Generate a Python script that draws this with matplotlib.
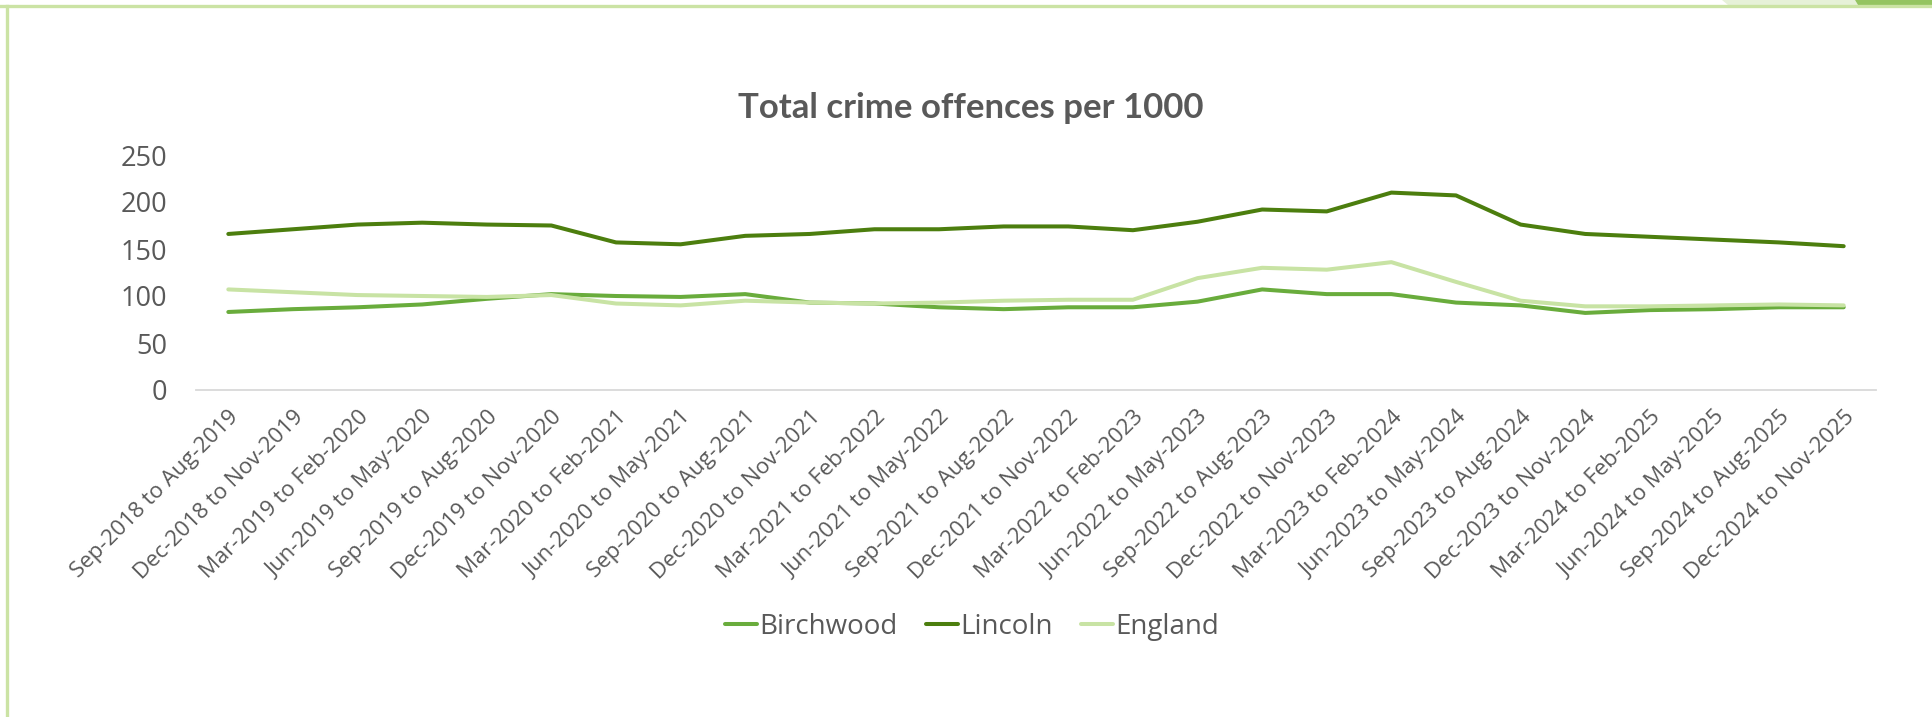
import matplotlib
matplotlib.use("Agg")
import matplotlib.pyplot as plt
from matplotlib.patches import Polygon
from matplotlib.lines import Line2D

periods = [
    "Sep-2018 to Aug-2019", "Dec-2018 to Nov-2019", "Mar-2019 to Feb-2020",
    "Jun-2019 to May-2020", "Sep-2019 to Aug-2020", "Dec-2019 to Nov-2020",
    "Mar-2020 to Feb-2021", "Jun-2020 to May-2021", "Sep-2020 to Aug-2021",
    "Dec-2020 to Nov-2021", "Mar-2021 to Feb-2022", "Jun-2021 to May-2022",
    "Sep-2021 to Aug-2022", "Dec-2021 to Nov-2022", "Mar-2022 to Feb-2023",
    "Jun-2022 to May-2023", "Sep-2022 to Aug-2023", "Dec-2022 to Nov-2023",
    "Mar-2023 to Feb-2024", "Jun-2023 to May-2024", "Sep-2023 to Aug-2024",
    "Dec-2023 to Nov-2024", "Mar-2024 to Feb-2025", "Jun-2024 to May-2025",
    "Sep-2024 to Aug-2025", "Dec-2024 to Nov-2025",
]

birchwood = [83, 86, 88, 91, 97, 102, 100, 99, 102, 93, 92, 88, 86, 88, 88,
             94, 107, 102, 102, 93, 90, 82, 85, 86, 88, 88]
lincoln = [166, 171, 176, 178, 176, 175, 157, 155, 164, 166, 171, 171, 174, 174,
           170, 179, 192, 190, 210, 207, 176, 166, 163, 160, 157, 153]
england = [107, 104, 101, 100, 99, 101, 92, 90, 95, 93, 92, 93, 95, 96, 96,
           119, 130, 128, 136, 115, 95, 89, 89, 90, 91, 90]

series = [
    ("Birchwood", birchwood, "#69AC3C"),
    ("Lincoln", lincoln, "#4C7E0E"),
    ("England", england, "#C8E3A4"),
]

text_grey = "#595959"
body_font = ["Open Sans", "DejaVu Sans"]
title_font = ["Lato", "DejaVu Sans"]

W, H = 1932, 717
fig = plt.figure(figsize=(W / 100, H / 100), dpi=100)
fig.patch.set_facecolor("white")

# slide frame: green rule along the top and left edge, accent at top right
fig.add_artist(Line2D([0, 1], [1 - 6 / H, 1 - 6 / H], transform=fig.transFigure,
                      color="#CBE3A4", lw=2.4))
fig.add_artist(Line2D([7 / W, 7 / W], [0, 1 - 6 / H], transform=fig.transFigure,
                      color="#CBE3A4", lw=2.4))
fig.add_artist(Polygon([[1722 / W, 1], [1855 / W, 1], [1858 / W, 1 - 5 / H],
                        [1728 / W, 1 - 5 / H]], closed=True,
                       transform=fig.transFigure, color="#E6F1D8", lw=0))
fig.add_artist(Polygon([[1855 / W, 1], [1, 1], [1, 1 - 5 / H],
                        [1858 / W, 1 - 5 / H]], closed=True,
                       transform=fig.transFigure, color="#94C461", lw=0))

ax = fig.add_axes([196 / W, 1 - 390 / H, 1680 / W, 235 / H])
x = list(range(len(periods)))
for name, values, color in series:
    ax.plot(x, values, color=color, lw=2.9, label=name, solid_capstyle="round")

ax.set_xlim(-0.5, len(periods) - 0.5)
ax.set_ylim(0, 250)
ax.set_yticks([0, 50, 100, 150, 200, 250])
for side in ["top", "right", "left"]:
    ax.spines[side].set_visible(False)
ax.spines["bottom"].set_color("#D9D9D9")
ax.spines["bottom"].set_linewidth(1.3)
ax.tick_params(axis="both", length=0, colors=text_grey)
ax.tick_params(axis="y", labelsize=19.5, pad=21)
ax.set_xticks(x)
ax.set_xticklabels(periods, rotation=45, ha="right", va="top",
                   rotation_mode="anchor", fontsize=16, family=body_font,
                   color=text_grey)
for lbl in ax.get_yticklabels():
    lbl.set_family(body_font)
ax.tick_params(axis="x", pad=12)

fig.text(971 / W, 1 - 108 / H, "Total crime offences per 1000", ha="center",
         va="center", fontsize=25, fontweight="bold", family=title_font,
         color=text_grey)

fig.legend(loc="center", bbox_to_anchor=(972 / W, 1 - 627 / H), ncol=3,
           frameon=False, prop={"family": body_font, "size": 20},
           handlelength=1.15, handletextpad=0.1, columnspacing=1.0,
           labelcolor=text_grey)

fig.savefig("out.png", dpi=100)
